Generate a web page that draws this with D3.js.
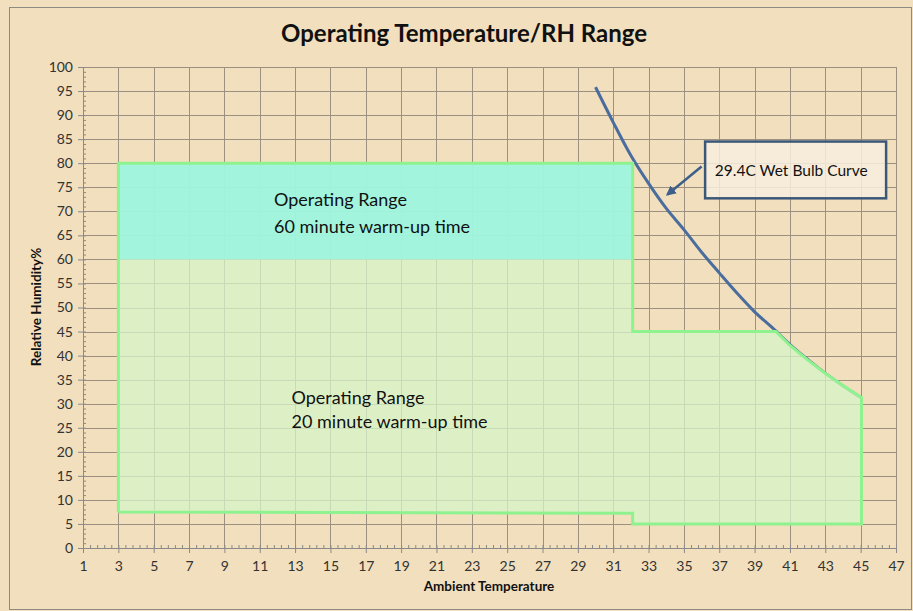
<!DOCTYPE html>
<html>
<head>
<meta charset="utf-8">
<script src="https://cdn.jsdelivr.net/npm/d3@7"></script>
<style>
  body { margin: 0; background: #f2dfbd; }
  text { font-family: Lato, "Open Sans", sans-serif; }
</style>
</head>
<body>
<svg id="chart" width="913" height="611"></svg>
<script>
// tick labels
const xTickLabels = [1, 3, 5, 7, 9, 11, 13, 15, 17, 19, 21, 23, 25, 27, 29, 31, 33, 35, 37, 39, 41, 43, 45, 47];
const yTickLabels = [0, 5, 10, 15, 20, 25, 30, 35, 40, 45, 50, 55, 60, 65, 70, 75, 80, 85, 90, 95, 100];

// 29.4C wet bulb curve
const wetBulbTemp = [30, 31, 32, 33, 34, 35, 36, 37, 38, 39, 40, 41, 42, 43, 44, 45];
const wetBulbRH   = [95.8, 88.5, 81.6, 75.8, 70.6, 66.2, 61.5, 57.2, 53.0, 49.1, 45.8, 42.3, 39.2, 36.3, 33.7, 31.3];

// 20 minute warm-up region outline
const range20Temp = [3, 3, 32.1, 32.1, 40.2, 41, 42, 43, 44, 45.05, 45.05, 32.1, 32.1, 3];
const range20RH   = [7.5, 80, 80, 45, 45, 42.1, 39.1, 36.3, 33.8, 31.3, 5, 5, 7.2, 7.5];

// 60 minute warm-up region
const range60Temp = [3, 32.1];
const range60RH   = [60, 80];

const svg = d3.select("#chart");
const x = d3.scaleLinear().domain([1, 47]).range([83, 896]);
const y = d3.scaleLinear().domain([0, 100]).range([548, 67]);

// outer frame
svg.append("rect")
    .attr("x", 9.5).attr("y", 7.5)
    .attr("width", 902).attr("height", 602)
    .attr("fill", "none")
    .attr("stroke", "#8e8a82");

// title
svg.append("text")
    .attr("x", 464).attr("y", 42)
    .attr("text-anchor", "middle")
    .style("font-size", "24px")
    .style("font-weight", "bold")
    .style("fill", "#111")
    .text("Operating Temperature/RH Range");

// grid
const grid = svg.append("g").attr("stroke", "#9c9080").attr("stroke-width", 1);
grid.selectAll("line.v")
    .data(xTickLabels.slice(1))
    .enter().append("line")
    .attr("x1", d => Math.round(x(d)) + 0.5).attr("x2", d => Math.round(x(d)) + 0.5)
    .attr("y1", y(0)).attr("y2", y(100));
grid.selectAll("line.h")
    .data(yTickLabels.slice(1))
    .enter().append("line")
    .attr("y1", d => Math.round(y(d)) + 0.5).attr("y2", d => Math.round(y(d)) + 0.5)
    .attr("x1", x(1)).attr("x2", x(47));

// wet bulb curve (beneath the region outline)
const curveLine = d3.line()
    .x((d, i) => x(wetBulbTemp[i]))
    .y(d => y(d))
    .curve(d3.curveMonotoneX);
svg.append("path")
    .datum(wetBulbRH)
    .attr("d", curveLine)
    .attr("fill", "none")
    .attr("stroke", "#4a6d9e")
    .attr("stroke-width", 3);

// regions
const regionLine = d3.line()
    .x((d, i) => x(range20Temp[i]))
    .y(d => y(d));

svg.append("path")
    .datum(range20RH)
    .attr("d", regionLine)
    .attr("fill", "#d5f5c8")
    .attr("fill-opacity", 0.75)
    .attr("stroke", "none");

svg.append("rect")
    .attr("x", x(range60Temp[0]))
    .attr("y", y(range60RH[1]))
    .attr("width", x(range60Temp[1]) - x(range60Temp[0]))
    .attr("height", y(range60RH[0]) - y(range60RH[1]))
    .attr("fill", "#98f5e0")
    .attr("fill-opacity", 0.85);

svg.append("path")
    .datum(range20RH)
    .attr("d", regionLine)
    .attr("fill", "none")
    .attr("stroke", "#8ef28e")
    .attr("stroke-width", 3)
    .attr("stroke-linejoin", "miter");

// axes
const axisColor = "#8a8a8a";
const yAxis = svg.append("g").attr("transform", `translate(${x(1)},0)`);
yAxis.call(d3.axisLeft(y).tickValues(yTickLabels).tickSize(5).tickPadding(5));
yAxis.append("g").call(d3.axisRight(y).tickValues(d3.range(0, 101, 1)).tickSize(3).tickFormat(""));
yAxis.selectAll(".domain").attr("stroke", axisColor);
yAxis.selectAll(".tick line").attr("stroke", axisColor);
yAxis.selectAll(".tick text").style("font-size", "14px").style("fill", "#333")
    .style("font-family", "Lato, sans-serif");

const xAxis = svg.append("g").attr("transform", `translate(0,${y(0)})`);
xAxis.call(d3.axisBottom(x).tickValues(xTickLabels).tickSize(5).tickPadding(8));
xAxis.append("g").call(d3.axisTop(x).tickValues(d3.range(0, 116, 1).map(i => 1 + i * 0.4)).tickSize(3).tickFormat(""));
xAxis.selectAll(".domain").attr("stroke", axisColor);
xAxis.selectAll(".tick line").attr("stroke", axisColor);
xAxis.selectAll(".tick text").style("font-size", "14px").style("fill", "#333")
    .style("font-family", "Lato, sans-serif");

// axis titles
svg.append("text")
    .attr("x", 489).attr("y", 591)
    .attr("text-anchor", "middle")
    .style("font-size", "13.5px")
    .style("font-weight", "bold")
    .style("fill", "#111")
    .text("Ambient Temperature");

svg.append("text")
    .attr("transform", "translate(41,307) rotate(-90)")
    .attr("text-anchor", "middle")
    .style("font-size", "13.5px")
    .style("font-weight", "bold")
    .style("fill", "#111")
    .text("Relative Humidity%");

// region labels
const regionLabels = [
    { t: 11.81, rh: 71.0, text: "Operating Range" },
    { t: 11.81, rh: 65.5, text: "60 minute warm-up time" },
    { t: 12.8, rh: 29.9, text: "Operating Range" },
    { t: 12.8, rh: 24.9, text: "20 minute warm-up time" }
];
svg.selectAll("text.region")
    .data(regionLabels)
    .enter().append("text")
    .attr("class", "region")
    .attr("x", d => x(d.t))
    .attr("y", d => y(d.rh))
    .style("font-size", "18px")
    .style("fill", "#111")
    .text(d => d.text);

// callout
svg.append("defs").append("marker")
    .attr("id", "arrow")
    .attr("viewBox", "0 0 10 10")
    .attr("refX", 8).attr("refY", 5)
    .attr("markerWidth", 4).attr("markerHeight", 4)
    .attr("orient", "auto")
    .append("path")
    .attr("d", "M0,0 L10,5 L0,10 z")
    .attr("fill", "#3e5f8a");

svg.append("line")
    .attr("x1", x(36.0)).attr("y1", y(79.3))
    .attr("x2", x(34.07)).attr("y2", y(73.5))
    .attr("stroke", "#3e5f8a")
    .attr("stroke-width", 2.5)
    .attr("marker-end", "url(#arrow)");

svg.append("rect")
    .attr("x", x(36.2)).attr("y", y(84.5))
    .attr("width", x(46.44) - x(36.2))
    .attr("height", y(72.7) - y(84.5))
    .attr("fill", "#f8eedf")
    .attr("fill-opacity", 0.85)
    .attr("stroke", "#3b5878")
    .attr("stroke-width", 2.5);

svg.append("text")
    .attr("x", x(36.75)).attr("y", y(77.4))
    .style("font-size", "15.5px")
    .style("fill", "#111")
    .text("29.4C Wet Bulb Curve");
</script>
</body>
</html>
